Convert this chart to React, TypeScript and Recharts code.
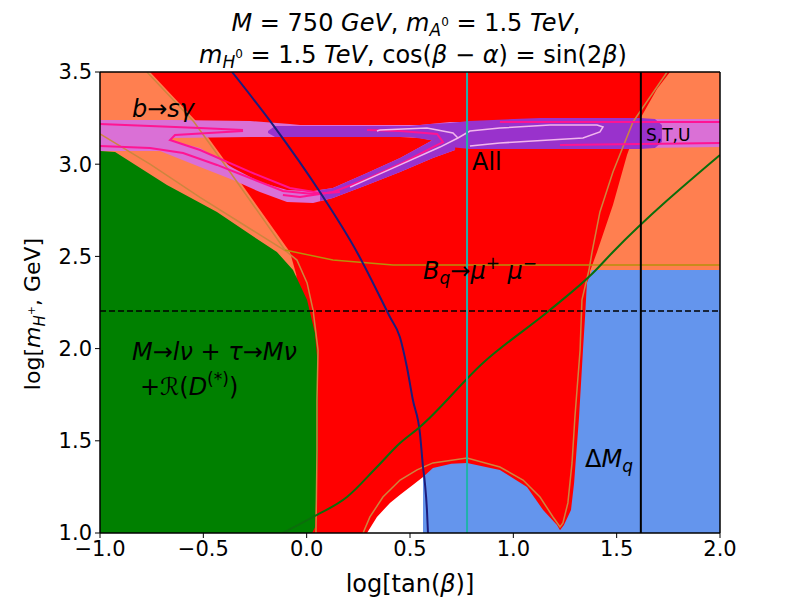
import React from 'react';
import { ComposedChart, Area, Line, XAxis, YAxis, ReferenceLine } from 'recharts';

const xTicks = [-1, -0.5, 0, 0.5, 1, 1.5, 2];
const yTicks = [1, 1.5, 2, 2.5, 3, 3.5];

// filled regions: x, lower edge, upper edge (log tanβ, log mH+)
const fullX = [-1, 2];
const fullLo = [1, 1];
const fullHi = [3.5, 3.5];

const redX = [-0.758, -0.531, -0.356, -0.081, -0.05, -0.03, 1.35, 1.371, 1.405, 1.482, 1.55, 1.613, 1.695, 1.758];
const redLo = [3.5, 3.229, 2.958, 2.524, 2.4, 1.0, 1.0, 2.42, 2.524, 2.779, 3.05, 3.245, 3.408, 3.5];
const redHi = [3.5, 3.5, 3.5, 3.5, 3.5, 3.5, 3.5, 3.5, 3.5, 3.5, 3.5, 3.5, 3.5, 3.5];

const greenX = [-1, -0.927, -0.676, -0.434, -0.24, -0.144, -0.066, 0.002, 0.04, 0.055, 0.055, 0.04, 0.026];
const greenLo = [1, 1, 1, 1, 1, 1, 1, 1, 1, 1, 1, 1, 1];
const greenHi = [3.072, 3.066, 2.887, 2.741, 2.594, 2.524, 2.426, 2.264, 2.085, 1.9, 1.45, 1.03, 1.0];

const whiteX = [0.292, 0.34, 0.403, 0.452, 0.515, 0.563];
const whiteLo = [1, 1, 1, 1, 1, 1];
const whiteHi = [1.0, 1.087, 1.163, 1.208, 1.262, 1.304];

const blueX = [0.563, 0.611, 0.7, 0.776, 0.935, 1.066, 1.144, 1.211, 1.226, 1.245, 1.279, 1.294, 1.318, 1.337, 1.347, 1.356, 1.381, 2.0];
const blueLo = [1, 1, 1, 1, 1, 1, 1, 1, 1, 1, 1, 1, 1, 1, 1, 1, 1, 1];
const blueHi = [1.304, 1.352, 1.375, 1.38, 1.342, 1.249, 1.125, 1.043, 1.015, 1.043, 1.125, 1.271, 1.629, 1.992, 2.171, 2.356, 2.426, 2.426];

// b -> s gamma band
const bandX = [-1, -0.685, -0.652, -0.274, -0.081, -0.032, 0.452, 0.548, 0.597, 0.694, 0.742, 0.935, 1.032, 1.613, 2.0];
const bandLo = [3.072, 3.072, 3.142, 3.147, 3.147, 3.147, 3.147, 3.142, 3.131, 3.099, 3.093, 3.082, 3.082, 3.088, 3.093];
const bandHi = [3.24, 3.24, 3.24, 3.234, 3.218, 3.213, 3.213, 3.213, 3.218, 3.229, 3.229, 3.234, 3.245, 3.245, 3.245];

const armX = [-0.71, -0.516, -0.356, -0.226, -0.095, 0.031, 0.127, 0.292, 0.452, 0.611, 0.718];
const armLo = [3.072, 2.985, 2.914, 2.849, 2.795, 2.79, 2.817, 2.887, 2.958, 3.034, 3.077];
const armHi = [3.142, 3.088, 2.979, 2.903, 2.86, 2.855, 2.871, 2.952, 3.034, 3.131, 3.185];

// "All" region
const allX = [-0.187, -0.153, 0.5, 0.597, 0.694, 0.79, 1.129, 1.613, 1.685, 1.719];
const allLo = [3.169, 3.147, 3.147, 3.131, 3.093, 3.082, 3.082, 3.082, 3.088, 3.12];
const allHi = [3.18, 3.207, 3.207, 3.218, 3.223, 3.234, 3.251, 3.251, 3.245, 3.213];

const allArmX = [0.065, 0.127, 0.292, 0.452, 0.611, 0.718];
const allArmLo = [2.801, 2.817, 2.887, 2.958, 3.034, 3.077];
const allArmHi = [2.86, 2.871, 2.952, 3.034, 3.131, 3.185];

// contour lines
const c1X = [-1, -0.758, -0.516, -0.274, -0.095, -0.047, 0.002, 0.031, 0.055, 0.05, 0.05, 0.045];
const c1Y = [3.164, 3.0, 2.82, 2.65, 2.524, 2.48, 2.356, 2.209, 1.992, 1.721, 1.45, 1.0];

const c2X = [-0.773, -0.545, -0.371, -0.105];
const c2Y = [3.5, 3.229, 2.958, 2.535];

const bqX = [-0.105, 0.127, 0.418, 2.0];
const bqY = [2.535, 2.48, 2.453, 2.453];

const c3X = [1.744, 1.579, 1.482, 1.419, 1.381, 1.366, 1.332, 1.323, 1.298, 1.284, 1.264, 1.24, 1.226, 1.192, 1.129, 1.047, 0.935, 0.776, 0.611, 0.534, 0.452, 0.369, 0.306, 0.273];
const c3Y = [3.5, 3.229, 2.958, 2.741, 2.524, 2.426, 2.264, 1.992, 1.629, 1.38, 1.163, 1.054, 1.033, 1.087, 1.195, 1.287, 1.358, 1.407, 1.38, 1.342, 1.287, 1.195, 1.087, 1.0];

const navyX = [-0.361, -0.163, 0.064, 0.243, 0.403, 0.451, 0.485, 0.514, 0.548, 0.563, 0.572, 0.582, 0.587];
const navyY = [3.5, 3.213, 2.849, 2.524, 2.171, 2.063, 1.9, 1.721, 1.542, 1.358, 1.271, 1.125, 1.0];

const diagX = [-0.115, 0.031, 0.195, 0.34, 0.452, 0.548, 0.853, 1.177, 1.385, 1.482, 2.0];
const diagY = [1.0, 1.087, 1.195, 1.358, 1.488, 1.575, 1.922, 2.209, 2.41, 2.524, 3.05];

const pk1X = [-1, -0.758, -0.516, -0.308];
const pk1Y = [3.218, 3.207, 3.196, 3.185];
const pk2X = [-1, -0.758, -0.598, -0.434, -0.274, -0.115, 0.031, 0.161];
const pk2Y = [3.099, 3.088, 3.061, 2.996, 2.925, 2.855, 2.838, 2.849];
const pk3X = [-0.308, -0.637, -0.661, -0.516, -0.274, -0.081, 0.065];
const pk3Y = [3.18, 3.158, 3.131, 3.077, 2.958, 2.871, 2.844];
const pk4X = [0.292, 0.452, 0.631, 0.66, 0.611, 0.452, 0.292, 0.127, -0.032, -0.115];
const pk4Y = [3.185, 3.18, 3.164, 3.12, 3.093, 3.001, 2.92, 2.849, 2.822, 2.833];
const pk5X = [0.935, 1.177, 2.0];
const pk5Y = [3.229, 3.229, 3.229];
const pk6X = [1.226, 2.0];
const pk6Y = [3.104, 3.115];

const lpaX = [0.34, 0.355, 0.582, 0.708, 0.732];
const lpaY = [3.18, 3.185, 3.196, 3.169, 3.142];
const lpbX = [0.21, 0.452, 0.645, 0.732, 0.79, 0.935, 1.177, 1.405, 1.434, 1.419, 1.337, 1.095, 0.935, 0.79];
const lpbY = [2.876, 2.996, 3.093, 3.142, 3.18, 3.196, 3.213, 3.213, 3.202, 3.175, 3.142, 3.126, 3.115, 3.099];

const tealX = 0.776;
const stuX = 1.617;
const dashY = 2.204;

const band = (xs: number[], lo: number[], hi: number[]) => xs.map((x, i) => ({ x, r: [lo[i], hi[i]] }));
const curve = (xs: number[], ys: number[]) => xs.map((x, i) => ({ x, y: ys[i] }));

const regions = [
  { id: 'coral', data: band(fullX, fullLo, fullHi), fill: '#ff7f50' },
  { id: 'red', data: band(redX, redLo, redHi), fill: '#ff0000' },
  { id: 'green', data: band(greenX, greenLo, greenHi), fill: '#008000' },
  { id: 'white', data: band(whiteX, whiteLo, whiteHi), fill: '#ffffff' },
  { id: 'blue', data: band(blueX, blueLo, blueHi), fill: '#6495ed' },
  { id: 'band', data: band(bandX, bandLo, bandHi), fill: '#da70d6' },
  { id: 'arm', data: band(armX, armLo, armHi), fill: '#da70d6' },
  { id: 'all', data: band(allX, allLo, allHi), fill: '#9932cc' },
  { id: 'allArm', data: band(allArmX, allArmLo, allArmHi), fill: '#9932cc' },
];

const lines = [
  { id: 'c1', data: curve(c1X, c1Y), stroke: '#cd853f', w: 1.5, t: 'linear' },
  { id: 'c2', data: curve(c2X, c2Y), stroke: '#cd853f', w: 1.5, t: 'linear' },
  { id: 'c3', data: curve(c3X, c3Y), stroke: '#cd853f', w: 1.5, t: 'linear' },
  { id: 'bq', data: curve(bqX, bqY), stroke: '#b8900b', w: 1.5, t: 'linear' },
  { id: 'pk1', data: curve(pk1X, pk1Y), stroke: '#ff1493', w: 2, t: 'linear' },
  { id: 'pk2', data: curve(pk2X, pk2Y), stroke: '#ff1493', w: 2, t: 'linear' },
  { id: 'pk3', data: curve(pk3X, pk3Y), stroke: '#ff1493', w: 2, t: 'linear' },
  { id: 'pk4', data: curve(pk4X, pk4Y), stroke: '#ff1493', w: 2, t: 'linear' },
  { id: 'pk5', data: curve(pk5X, pk5Y), stroke: '#ff1493', w: 2, t: 'linear' },
  { id: 'pk6', data: curve(pk6X, pk6Y), stroke: '#ff1493', w: 2, t: 'linear' },
  { id: 'lpa', data: curve(lpaX, lpaY), stroke: '#f2b6ee', w: 1.5, t: 'linear' },
  { id: 'lpb', data: curve(lpbX, lpbY), stroke: '#f2b6ee', w: 1.5, t: 'linear' },
  { id: 'navy', data: curve(navyX, navyY), stroke: '#1c1c7c', w: 2, t: 'monotone' },
  { id: 'diag', data: curve(diagX, diagY), stroke: '#0b6e0b', w: 2, t: 'monotone' },
];

const fmt = (v: number) => (v < 0 ? '\u2212' + Math.abs(v).toFixed(1) : v.toFixed(1));
const font = 'DejaVu Sans';

export default function App() {
  return (
    <div style={{ position: 'absolute', left: 0, top: 0, width: 800, height: 600, background: '#fff' }}>
      <ComposedChart width={800} height={600} margin={{ top: 72, right: 80, bottom: 37, left: 40 }} style={{ fontFamily: font }}>
        <XAxis type="number" dataKey="x" domain={[-1, 2]} ticks={xTicks} interval={0} allowDataOverflow
          tickFormatter={fmt} height={30} tickSize={5} tickMargin={3}
          tick={{ fill: '#000', fontSize: 21 }} stroke="#000" axisLine={{ stroke: '#000', strokeWidth: 1.5 }} />
        <YAxis type="number" domain={[1, 3.5]} ticks={yTicks} interval={0} allowDataOverflow
          tickFormatter={fmt} width={60} tickSize={5} tickMargin={3}
          tick={{ fill: '#000', fontSize: 21 }} stroke="#000" axisLine={{ stroke: '#000', strokeWidth: 1.5 }} />
        {regions.map((r) => (
          <Area key={r.id} data={r.data} dataKey="r" type="linear" fill={r.fill} fillOpacity={1}
            stroke="none" isAnimationActive={false} dot={false} activeDot={false} />
        ))}
        {lines.map((l) => (
          <Line key={l.id} data={l.data} dataKey="y" type={l.t as any} stroke={l.stroke} strokeWidth={l.w}
            dot={false} activeDot={false} isAnimationActive={false} />
        ))}
        <ReferenceLine x={tealX} stroke="#20b2aa" strokeWidth={2} />
        <ReferenceLine x={stuX} stroke="#000" strokeWidth={2} />
        <ReferenceLine y={dashY} stroke="#000" strokeWidth={1.5} strokeDasharray="6 3" />
        <ReferenceLine y={3.5} stroke="#000" strokeWidth={1.5} />
        <ReferenceLine x={2} stroke="#000" strokeWidth={1.5} />
      </ComposedChart>
      <svg width={800} height={600} style={{ position: 'absolute', left: 0, top: 0, pointerEvents: 'none' }}
        fontFamily={font} fill="#000">
        <text x={406} y={31} textAnchor="middle" fontSize={24}>
          <tspan fontStyle="italic">M</tspan> = 750 <tspan fontStyle="italic">GeV</tspan>,  <tspan fontStyle="italic">m</tspan>
          <tspan fontStyle="italic" fontSize={17} dy={5}>A</tspan><tspan fontSize={12} dy={-10}>0</tspan>
          <tspan dy={5}> = 1.5 </tspan><tspan fontStyle="italic">TeV</tspan>,
        </text>
        <text x={413} y={63} textAnchor="middle" fontSize={24}>
          <tspan fontStyle="italic">m</tspan><tspan fontStyle="italic" fontSize={17} dy={5}>H</tspan>
          <tspan fontSize={12} dy={-10}>0</tspan><tspan dy={5}> = 1.5 </tspan><tspan fontStyle="italic">TeV</tspan>,  cos(
          <tspan fontStyle="italic">β</tspan> − <tspan fontStyle="italic">α</tspan>) = sin(2<tspan fontStyle="italic">β</tspan>)
        </text>
        <text x={410} y={592} textAnchor="middle" fontSize={24}>
          log[tan(<tspan fontStyle="italic">β</tspan>)]
        </text>
        <text transform="translate(40,314) rotate(-90)" textAnchor="middle" fontSize={22}>
          log[<tspan fontStyle="italic">m</tspan><tspan fontStyle="italic" fontSize={15} dy={5}>H</tspan>
          <tspan fontSize={11} dy={-10}>+</tspan><tspan dy={5}>, GeV]</tspan>
        </text>
        <text x={132} y={117} fontSize={24}>
          <tspan fontStyle="italic">b</tspan>→<tspan fontStyle="italic">sγ</tspan>
        </text>
        <text x={472} y={170} fontSize={24}>All</text>
        <text x={646} y={141} fontSize={17}>S,T,U</text>
        <text x={423} y={279} fontSize={24}>
          <tspan fontStyle="italic">B</tspan><tspan fontStyle="italic" fontSize={17} dy={5}>q</tspan>
          <tspan dy={-5}>→</tspan><tspan fontStyle="italic">μ</tspan><tspan fontSize={17} dy={-10}>+</tspan>
          <tspan dy={10}> </tspan><tspan fontStyle="italic">μ</tspan><tspan fontSize={17} dy={-10}>−</tspan>
        </text>
        <text x={132} y={360} fontSize={24}>
          <tspan fontStyle="italic">M</tspan>→<tspan fontStyle="italic">lν</tspan> + <tspan fontStyle="italic">τ</tspan>→<tspan fontStyle="italic">Mν</tspan>
        </text>
        <text x={140} y={395} fontSize={24}>
          +ℛ(<tspan fontStyle="italic">D</tspan><tspan fontSize={17} dy={-10}>(*)</tspan><tspan dy={10}>)</tspan>
        </text>
        <text x={585} y={467} fontSize={24}>
          Δ<tspan fontStyle="italic">M</tspan><tspan fontStyle="italic" fontSize={17} dy={5}>q</tspan>
        </text>
      </svg>
    </div>
  );
}
